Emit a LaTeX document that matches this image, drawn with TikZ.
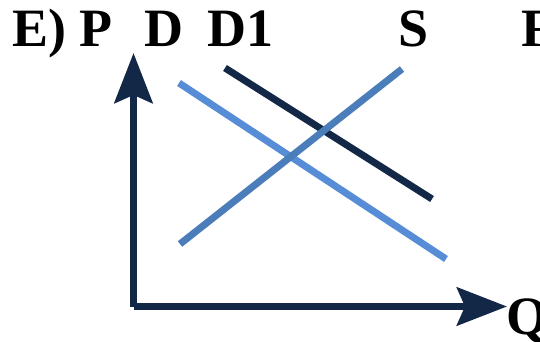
\documentclass[tikz,border=0pt]{standalone}
\usepackage{fontspec}
\setmainfont{Liberation Serif}
\usepackage{tikz}
\usetikzlibrary{arrows.meta}
\definecolor{axisnavy}{RGB}{19, 40, 71}
\definecolor{demandblue}{RGB}{86, 141, 214}
\definecolor{supplyblue}{RGB}{74, 125, 186}

\begin{document}
\begin{tikzpicture}[x=1pt, y=-1pt,
  every node/.style={inner sep=0pt, anchor=base west, font=\fontsize{54pt}{60pt}\selectfont\bfseries},
  axis/.style={line width=7.5pt, axisnavy, -{Stealth[length=50pt, width=38pt, inset=8pt]}},
  curve/.style={line width=7pt}]
\clip (0,0) rectangle (540,342);
\useasboundingbox (0,0) rectangle (540,342);
\node (title) at (12,46.5) {E) P};
\node (dlabel) at (144,46.5) {D};
\node (donelabel) at (207,46.5) {D1};
\node (slabel) at (398,46.5) {S};
\node (nextlabel) at (521,46.5) {F};
\node (qlabel) at (506,334) {Q};
\coordinate (origin) at (133.5,307);
\coordinate (ptop) at (133.5,53);
\coordinate (qstart) at (134,306.5);
\coordinate (qend) at (507,306.5);
\coordinate (d0) at (179,83);
\coordinate (d1) at (446,259);
\coordinate (dd0) at (225,68);
\coordinate (dd1) at (432,199);
\coordinate (s0) at (180,244);
\coordinate (s1) at (402,69);
\draw[axis] (origin) -- (ptop);
\draw[axis] (qstart) -- (qend);
\draw[curve, demandblue] (d0) -- (d1);
\draw[curve, axisnavy] (dd0) -- (dd1);
\draw[curve, supplyblue] (s0) -- (s1);
\end{tikzpicture}
\end{document}
